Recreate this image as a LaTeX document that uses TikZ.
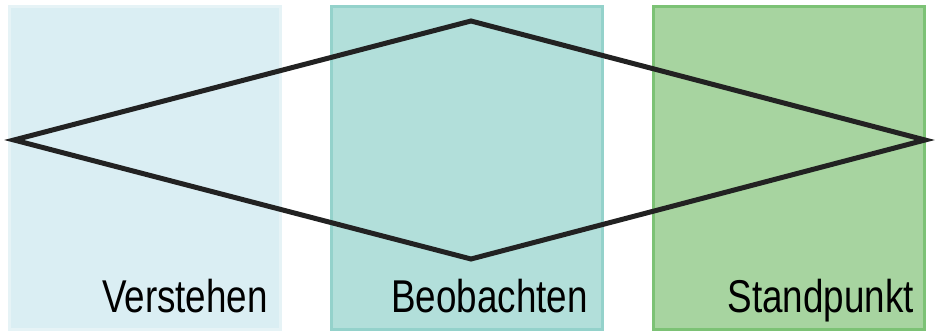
\documentclass[tikz,border=0pt]{standalone}
\usepackage{fontspec}
\setmainfont{Liberation Sans}
\newfontfamily\labelfont[FakeStretch=0.8]{Liberation Sans}
\usetikzlibrary{positioning}
\definecolor{paleblue}{HTML}{DAEEF3}
\definecolor{paleblueline}{HTML}{E6F3F6}
\definecolor{teal}{HTML}{B2DFDA}
\definecolor{tealline}{HTML}{94D2CB}
\definecolor{leaf}{HTML}{A7D4A0}
\definecolor{leafline}{HTML}{7CC275}
\definecolor{ink}{HTML}{222222}

\begin{document}
\begin{tikzpicture}[
  x=1pt,y=-1pt,
  node distance=51pt,
  panel/.style={rectangle,line width=3pt,minimum width=271pt,minimum height=323pt,inner sep=0pt,outer sep=0pt},
  tag/.style={font=\labelfont\fontsize{46}{50}\selectfont,anchor=base east,inner sep=0pt},
  rhomb/.style={line width=5pt,draw=ink,line join=miter}
]
\useasboundingbox (0,0) rectangle (937,334);
\node[panel,draw=paleblueline,fill=paleblue,anchor=north west] (verst) at (9.5,6.5) {};
\node[panel,draw=tealline,fill=teal,right=of verst] (beob) {};
\node[panel,draw=leafline,fill=leaf,right=of beob] (stand) {};
\node[tag] (verstlabel) at ([xshift=-12.5pt,yshift=17.5pt]verst.south east) {Verstehen};
\node[tag] (beoblabel) at ([xshift=-14.5pt,yshift=17.5pt]beob.south east) {Beobachten};
\node[tag] (standlabel) at ([xshift=-10.5pt,yshift=17.5pt]stand.south east) {Standpunkt};
% the rhombus over the three panels
\coordinate (west) at (14,140);
\coordinate (north) at (471,21);
\coordinate (east) at (925,140);
\coordinate (south) at (471,259);
\draw[rhomb] (west)--(north)--(east)--(south)--cycle;
\end{tikzpicture}
\end{document}
